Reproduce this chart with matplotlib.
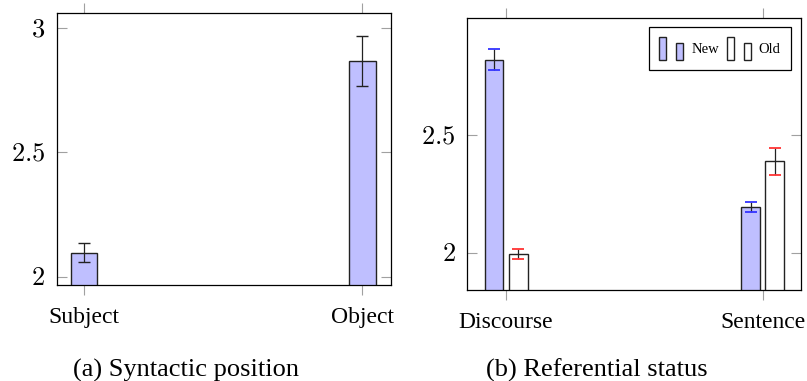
import matplotlib
matplotlib.use("Agg")
import matplotlib.pyplot as plt
from matplotlib.patches import Rectangle
from matplotlib.legend_handler import HandlerBase
import numpy as np

# ---- data ----
pos_categories = ["Subject", "Object"]
pos_values = [2.097, 2.868]
pos_errors = [0.037, 0.100]

ref_categories = ["Discourse", "Sentence"]
new_values = [2.818, 2.192]
new_errors = [0.044, 0.021]
old_values = [1.996, 2.387]
old_errors = [0.021, 0.057]

left_yticks = [2, 2.5, 3]
right_yticks = [2, 2.5]

# ---- style ----
plt.rcParams['font.family'] = ['Liberation Serif', 'DejaVu Serif']
plt.rcParams['mathtext.fontset'] = 'cm'

FILL = '#bfbfff'
EDGE = '#222222'
TICKC = '#a0a0a0'

fig = plt.figure(figsize=(8.07, 3.81), dpi=100)
ax1 = fig.add_axes([57/807, 1-285.3/381, 334/807, 272/381])
ax2 = fig.add_axes([467.3/807, 1-290/381, 334/807, 271.7/381])


def style_axes(ax, cats, yticks):
    ax.set_xticks(range(len(cats)))
    ax.set_xticklabels(cats, fontsize=17)
    ax.set_yticks(yticks)
    ax.set_yticklabels([f"${t:g}$" for t in yticks], fontsize=19)
    ax.tick_params(axis='x', direction='out', top=True, bottom=True,
                   length=7.5, width=0.8, color=TICKC, pad=8)
    ax.tick_params(axis='y', direction='in', left=True, right=True,
                   length=7.5, width=0.8, color=TICKC, pad=8.5)
    for s in ax.spines.values():
        s.set_color('black')
        s.set_linewidth(0.9)


# ---- (a) ----
x = np.arange(len(pos_categories))
ax1.bar(x, pos_values, width=0.095, color=FILL, edgecolor=EDGE, linewidth=1.0, zorder=2)
eb = ax1.errorbar(x, pos_values, yerr=pos_errors, fmt='none', ecolor='#222222',
                  elinewidth=0.9, capsize=4.2, capthick=1.0, zorder=3)
ax1.set_xlim(-0.098, 1.103)
ax1.set_ylim(1.965, 3.06)
style_axes(ax1, pos_categories, left_yticks)

# ---- (b) ----
x2 = np.arange(len(ref_categories))
off = 0.047
w = 0.074
b_new = ax2.bar(x2 - off, new_values, width=w, color=FILL, edgecolor=EDGE, linewidth=1.0, zorder=2, label='New')
b_old = ax2.bar(x2 + off, old_values, width=w, color='white', edgecolor=EDGE, linewidth=1.0, zorder=2, label='Old')
e1 = ax2.errorbar(x2 - off, new_values, yerr=new_errors, fmt='none', ecolor='#222222',
                  elinewidth=0.9, capsize=4.0, capthick=1.3, zorder=3)
for c in e1[1]:
    c.set_color('#3333ff')
    c.set_markeredgecolor('#3333ff')
    c.set_markerfacecolor('#3333ff')
e2 = ax2.errorbar(x2 + off, old_values, yerr=old_errors, fmt='none', ecolor='#222222',
                  elinewidth=0.9, capsize=4.0, capthick=1.3, zorder=3)
for c in e2[1]:
    c.set_color('#ff3333')
    c.set_markeredgecolor('#ff3333')
    c.set_markerfacecolor('#ff3333')
ax2.set_xlim(-0.151, 1.150)
ax2.set_ylim(1.842, 2.993)
style_axes(ax2, ref_categories, right_yticks)


class TwoBarHandler(HandlerBase):
    def create_artists(self, legend, orig_handle, xdescent, ydescent, width, height, fontsize, trans):
        fc = orig_handle.get_facecolor()
        bw = width * 0.29
        r1 = Rectangle((-xdescent, -ydescent), bw, height, facecolor=fc,
                       edgecolor=EDGE, linewidth=1.0, transform=trans)
        r2 = Rectangle((-xdescent + width - bw, -ydescent), bw, height * 0.72, facecolor=fc,
                       edgecolor=EDGE, linewidth=1.0, transform=trans)
        return [r1, r2]


leg = ax2.legend(handles=[b_new.patches[0], b_old.patches[0]], labels=['New', 'Old'],
                 handler_map={Rectangle: TwoBarHandler()},
                 loc='upper right', bbox_to_anchor=(0.968, 0.969), borderaxespad=0,
                 ncol=2, fontsize=10.5, handlelength=1.64, handleheight=2.1,
                 handletextpad=0.55, columnspacing=0.55, borderpad=0.68,
                 fancybox=False, framealpha=1, edgecolor='black')
leg.get_frame().set_linewidth(0.9)

fig.text(186/807, 1-377/381, "(a) Syntactic position", ha='center', va='baseline', fontsize=19)
fig.text(596.7/807, 1-377/381, "(b) Referential status", ha='center', va='baseline', fontsize=19)

fig.savefig("out.png", dpi=100)
